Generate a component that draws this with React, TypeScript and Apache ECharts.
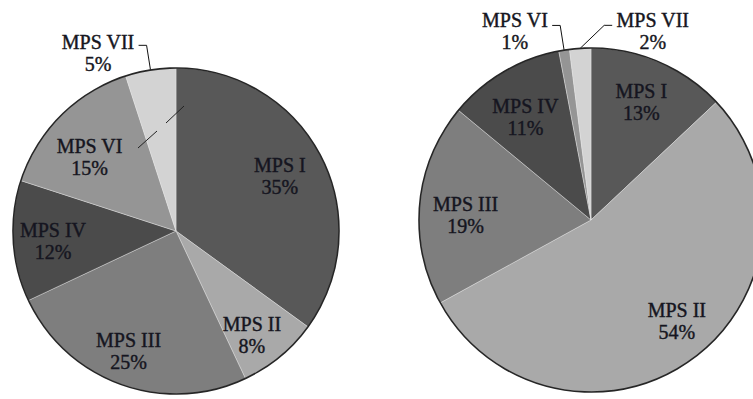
import React, { useEffect, useRef } from 'react';
import * as echarts from 'echarts';

const categories = ['MPS I', 'MPS II', 'MPS III', 'MPS IV', 'MPS VI', 'MPS VII'];
const leftValues = [35, 8, 25, 12, 15, 5];
const rightValues = [13, 54, 19, 11, 1, 2];
const sliceColors = ['#585858', '#a9a9a9', '#7e7e7e', '#4b4b4b', '#959595', '#d3d3d3'];

// label fine-tuning (pixels), styling only
const leftLabelNudge: [number, number][] = [[-5, 1], [-2, 10], [-6, 5], [-1, 2], [0, 12], [0, 2]];
const rightLabelNudge: [number, number][] = [[-1, 0], [10, -3], [3, 7], [0, 8], [0, 0], [0, 0]];

const W = 753;
const H = 399;
const LEFT = { cx: 176, cy: 231, r: 163 };
const RIGHT = { cx: 591, cy: 220, r: 172 };

type Callout = { side: 'left' | 'right'; mode: 'radial' | 'diag' };
const leftCallouts: Record<number, Callout> = { 5: { side: 'left', mode: 'radial' } };
const rightCallouts: Record<number, Callout> = {
  4: { side: 'left', mode: 'radial' },
  5: { side: 'right', mode: 'diag' },
};

const FONT = 'Liberation Serif, Times New Roman, serif';

function midAngle(values: number[], i: number) {
  const total = values.reduce((a, b) => a + b, 0);
  let cum = 0;
  for (let j = 0; j < i; j++) cum += values[j];
  return ((cum + values[i] / 2) / total) * Math.PI * 2;
}

function polar(geo: { cx: number; cy: number }, a: number, rho: number): [number, number] {
  return [geo.cx + rho * Math.sin(a), geo.cy - rho * Math.cos(a)];
}

function makeLayout(
  values: number[],
  geo: { cx: number; cy: number; r: number },
  callouts: Record<number, Callout>,
  nudge: [number, number][]
) {
  return (params: any) => {
    const i = params.dataIndex;
    const a = midAngle(values, i);
    const c = callouts[i];
    const [nx, ny] = nudge[i] || [0, 0];
    const w = params.labelRect ? params.labelRect.width : 60;
    if (!c) {
      const [x, y] = polar(geo, a, geo.r * 0.75);
      return { x: x + nx, y: y + ny, align: 'center', verticalAlign: 'middle' };
    }
    const E = polar(geo, a, geo.r);
    let B: [number, number];
    if (c.mode === 'radial') B = polar(geo, a, geo.r + 25);
    else B = [E[0] + 24, E[1] - 23];
    const dir = c.side === 'left' ? -1 : 1;
    const C: [number, number] = [B[0] + dir * 8, B[1]];
    const x = C[0] + dir * (4 + w / 2);
    return {
      x: x + nx,
      y: C[1] - 16 + ny,
      align: 'center',
      verticalAlign: 'top',
      labelLinePoints: [E, B, C],
    };
  };
}

function buildSeries(
  values: number[],
  geo: { cx: number; cy: number; r: number },
  callouts: Record<number, Callout>,
  nudge: [number, number][]
) {
  return {
    type: 'pie',
    center: [geo.cx, geo.cy],
    radius: [0, geo.r],
    startAngle: 90,
    clockwise: true,
    avoidLabelOverlap: false,
    silent: true,
    itemStyle: { borderColor: 'rgba(230,230,230,0.7)', borderWidth: 0.6 },
    label: {
      show: true,
      position: 'inside',
      formatter: (p: any) => `${p.name}\n${p.value}%`,
      color: '#151520',
      fontFamily: FONT,
      fontSize: 20,
      lineHeight: 22,
      textBorderColor: '#151520',
      textBorderWidth: 0.4,
    },
    labelLine: { show: false },
    labelLayout: makeLayout(values, geo, callouts, nudge),
    data: categories.map((name, i) => ({
      name,
      value: values[i],
      itemStyle: { color: sliceColors[i] },
      ...(callouts[i]
        ? {
            label: { position: 'outside' },
            labelLine: { show: true, length: 25, length2: 8, lineStyle: { color: '#111', width: 1 } },
          }
        : {}),
    })),
  };
}

export default function App() {
  const ref = useRef<HTMLDivElement>(null);
  useEffect(() => {
    if (!ref.current) return;
    const chart = echarts.init(ref.current, undefined, { renderer: 'svg' });
    chart.setOption({
      animation: false,
      backgroundColor: '#ffffff',
      series: [
        buildSeries(leftValues, LEFT, leftCallouts, leftLabelNudge),
        buildSeries(rightValues, RIGHT, rightCallouts, rightLabelNudge),
      ],
      graphic: [
        {
          type: 'circle',
          z: 10,
          shape: { cx: LEFT.cx, cy: LEFT.cy, r: LEFT.r },
          style: { fill: 'none', stroke: '#262626', lineWidth: 1.6 },
        },
        {
          type: 'circle',
          z: 10,
          shape: { cx: RIGHT.cx, cy: RIGHT.cy, r: RIGHT.r },
          style: { fill: 'none', stroke: '#262626', lineWidth: 1.6 },
        },
        {
          type: 'line',
          z: 10,
          shape: { x1: 138, y1: 148, x2: 157, y2: 131 },
          style: { stroke: '#222', lineWidth: 1 },
        },
        {
          type: 'line',
          z: 10,
          shape: { x1: 166, y1: 123, x2: 184, y2: 106 },
          style: { stroke: '#222', lineWidth: 1 },
        },
      ],
    });
    return () => chart.dispose();
  }, []);
  return (
    <div
      ref={ref}
      style={{ position: 'absolute', left: 0, top: 0, width: W, height: H, background: '#fff' }}
    />
  );
}
